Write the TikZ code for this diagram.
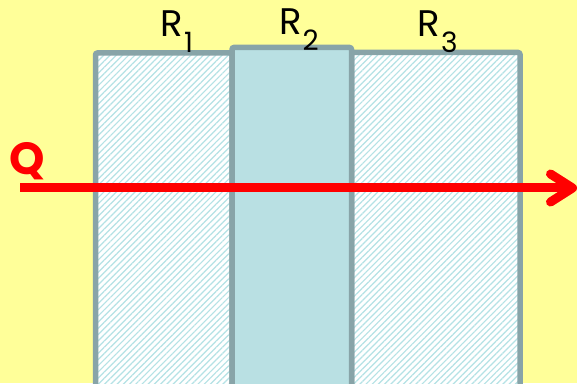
\documentclass[tikz,border=0pt]{standalone}
\usepackage{fontspec}
\setmainfont{Poppins}
\usetikzlibrary{arrows.meta, patterns.meta}
\definecolor{bgyellow}{HTML}{FFFF99}
\definecolor{slabedge}{HTML}{88A4A8}
\definecolor{slabfill}{HTML}{B9E0E3}
\definecolor{hatchcol}{HTML}{B4E2E5}
\newcommand{\slabname}[1]{R\kern1pt\raisebox{-16pt}{\fontsize{28}{28}\selectfont #1}}

\begin{document}
\begin{tikzpicture}[x=1pt, y=1pt,
  slab/.style={draw=slabedge, line width=5.5pt, rounded corners=2pt, inner sep=0pt, outer sep=0pt, anchor=north west},
  hatched/.style={slab, preaction={fill=white}, pattern={Lines[angle=45, distance=4.4pt, line width=1.2pt]}, pattern color=hatchcol},
  solid slab/.style={slab, fill=slabfill},
  rname/.style={font=\fontsize{37}{37}\selectfont, inner sep=0pt, anchor=base west}]
  \fill[bgyellow] (0,0) rectangle (577,383);
  \useasboundingbox (0,0) rectangle (577,383);
  \clip (0,0) rectangle (577,383);
  \node[hatched, minimum width=136.5, minimum height=345] (r1) at (95.5,330) {};
  \node[hatched, minimum width=168.5, minimum height=345] (r3) at (351.5,330.5) {};
  \node[solid slab, minimum width=119.5, minimum height=350] (r2) at (232,335.5) {};
  \node[rname] (n1) at (160.5,346) {\slabname{1}};
  \node[rname] (n2) at (279,348) {\slabname{2}};
  \node[rname] (n3) at (417.5,346) {\slabname{3}};
  \coordinate (qstart) at (20,195);
  \coordinate (qend) at (577,195);
  \draw[red, line width=9pt, -{Straight Barb[length=22pt, width=28pt, round]}] (qstart) -- (qend);
  \node[text=red, font=\bfseries\fontsize{45}{45}\selectfont, inner sep=0pt] (q) at (27,222) {Q};
\end{tikzpicture}
\end{document}
